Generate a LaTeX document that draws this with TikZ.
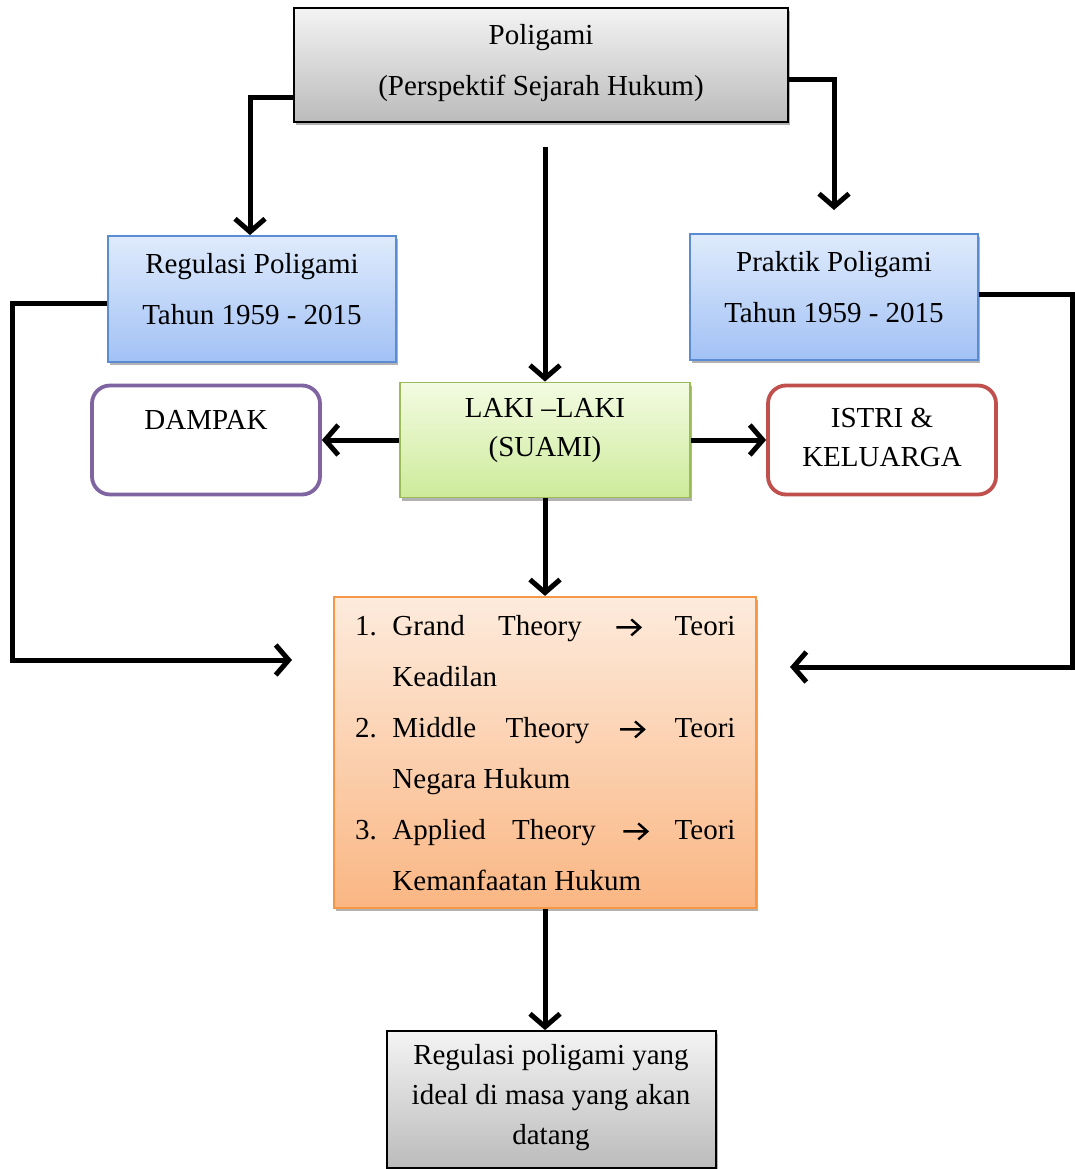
\documentclass[tikz,border=0pt]{standalone}
\usepackage{fontspec}
\setmainfont{Liberation Serif}
\usetikzlibrary{arrows.meta,shadows,calc}
\definecolor{grayT}{HTML}{F4F4F4}
\definecolor{grayB}{HTML}{BBBBBB}
\definecolor{blueT}{HTML}{DFEBFC}
\definecolor{blueB}{HTML}{A2C1F5}
\definecolor{blueD}{HTML}{5B8BD0}
\definecolor{greenT}{HTML}{F3FBE2}
\definecolor{greenB}{HTML}{CDEB9A}
\definecolor{greenD}{HTML}{9BBB59}
\definecolor{orT}{HTML}{FDEBDC}
\definecolor{orB}{HTML}{FAB683}
\definecolor{orD}{HTML}{F79646}
\definecolor{purp}{HTML}{8064A2}
\definecolor{redd}{HTML}{C0504D}
\newcommand{\thArr}{\tikz[baseline=0pt,x=1pt,y=1pt]{\draw[line width=2.4pt,line join=miter,line cap=butt] (0,8)--(24,8) (15,0)--(24,8)--(15,16);}}
\begin{document}
\begin{tikzpicture}[x=1pt,y=-1pt,
  shad/.style={drop shadow={shadow xshift=2pt,shadow yshift=-3pt,fill=black!55,opacity=.55}},
  graybox/.style={shad,draw=black,line width=1.8pt,top color=grayT,bottom color=grayB,inner sep=0pt},
  bluebox/.style={shad,draw=blueD,line width=1.8pt,top color=blueT,bottom color=blueB,inner sep=0pt},
  greenbox/.style={shad,draw=greenD,line width=1.8pt,top color=greenT,bottom color=greenB,inner sep=0pt},
  orbox/.style={shad,draw=orD,line width=2.2pt,top color=orT,bottom color=orB,inner sep=0pt},
  roundbox/.style={line width=3.8pt,rounded corners=18pt,fill=white,inner sep=0pt},
  txt/.style={font=\fontsize{29}{51}\selectfont,align=center,inner sep=0pt},
  txtb/.style={font=\fontsize{29}{39}\selectfont,align=center,inner sep=0pt},
  conn/.style={line width=5pt,-{Straight Barb[length=13pt,width=30pt]}},
]
\useasboundingbox (0,0) rectangle (1075,1169);

% boxes
\node[graybox,minimum width=494pt,minimum height=114pt] (top) at (541,65) {};
\node[txt] (topt) at (541,63) {Poligami\\(Perspektif Sejarah Hukum)};

\node[bluebox,minimum width=288pt,minimum height=126pt] (reg) at (252,299) {};
\node[txt] (regt) at (252,289) {Regulasi Poligami\\Tahun 1959 - 2015};

\node[bluebox,minimum width=288pt,minimum height=126pt] (prak) at (834,297) {};
\node[txt] (prakt) at (834,287) {Praktik Poligami\\Tahun 1959 - 2015};

\node[greenbox,minimum width=290pt,minimum height=115pt] (laki) at (545,440) {};
\node[txtb] (lakit) at (545,431) {LAKI –LAKI\\(SUAMI)};

\node[roundbox,draw=purp,minimum width=228pt,minimum height=109pt] (dampak) at (206,440) {};
\node[txt] (dampakt) at (206,420) {DAMPAK};

\node[roundbox,draw=redd,minimum width=228pt,minimum height=109pt] (istri) at (882,440) {};
\node[txtb] (istrit) at (882,437.5) {ISTRI \&\\KELUARGA};

\node[orbox,minimum width=422pt,minimum height=311pt] (teori) at (545,752.5) {};
\node[txt,anchor=north west] (teorit) at (355,599.5) {%
  \begin{tabular}{@{}l@{\hspace{15.5pt}}l@{}}
  1. & \makebox[343pt][s]{Grand Theory \thArr{} Teori}\\
     & Keadilan\\
  2. & \makebox[343pt][s]{Middle Theory \thArr{} Teori}\\
     & Negara Hukum\\
  3. & \makebox[343pt][s]{Applied Theory \thArr{} Teori}\\
     & Kemanfaatan Hukum
  \end{tabular}};

\node[graybox,minimum width=329pt,minimum height=137pt] (final) at (551.5,1099.5) {};
\node[font=\fontsize{29}{40}\selectfont,align=center,inner sep=0pt] (finalt) at (551,1098)
  {Regulasi poligami yang\\ideal di masa yang akan\\datang};

% helper coordinates
\coordinate (mstart) at (545,147);
\coordinate (rtip) at (834,210);
\coordinate (lc) at (12,660);
\coordinate (lend) at (292,660);
\coordinate (rc) at (1072,667);
\coordinate (rend) at (790,667);

% connectors
\draw[conn] ([yshift=-33pt]top.west) -| ([xshift=-2pt]reg.north);
\draw[conn] ([yshift=-15pt]top.east) -| (rtip);
\draw[conn] (mstart) -- (laki.north);
\draw[conn] (laki.west) -- (dampak.east);
\draw[conn] (laki.east) -- (istri.west);
\draw[conn] (laki.south) -- (teori.north);
\draw[conn] ([yshift=-4pt]reg.west) -| (lc) -- (lend);
\draw[conn] ([yshift=3pt]prak.east) -| (rc) -- (rend);
\draw[conn] (teori.south) -- (teori.south |- final.north);
\end{tikzpicture}
\end{document}
